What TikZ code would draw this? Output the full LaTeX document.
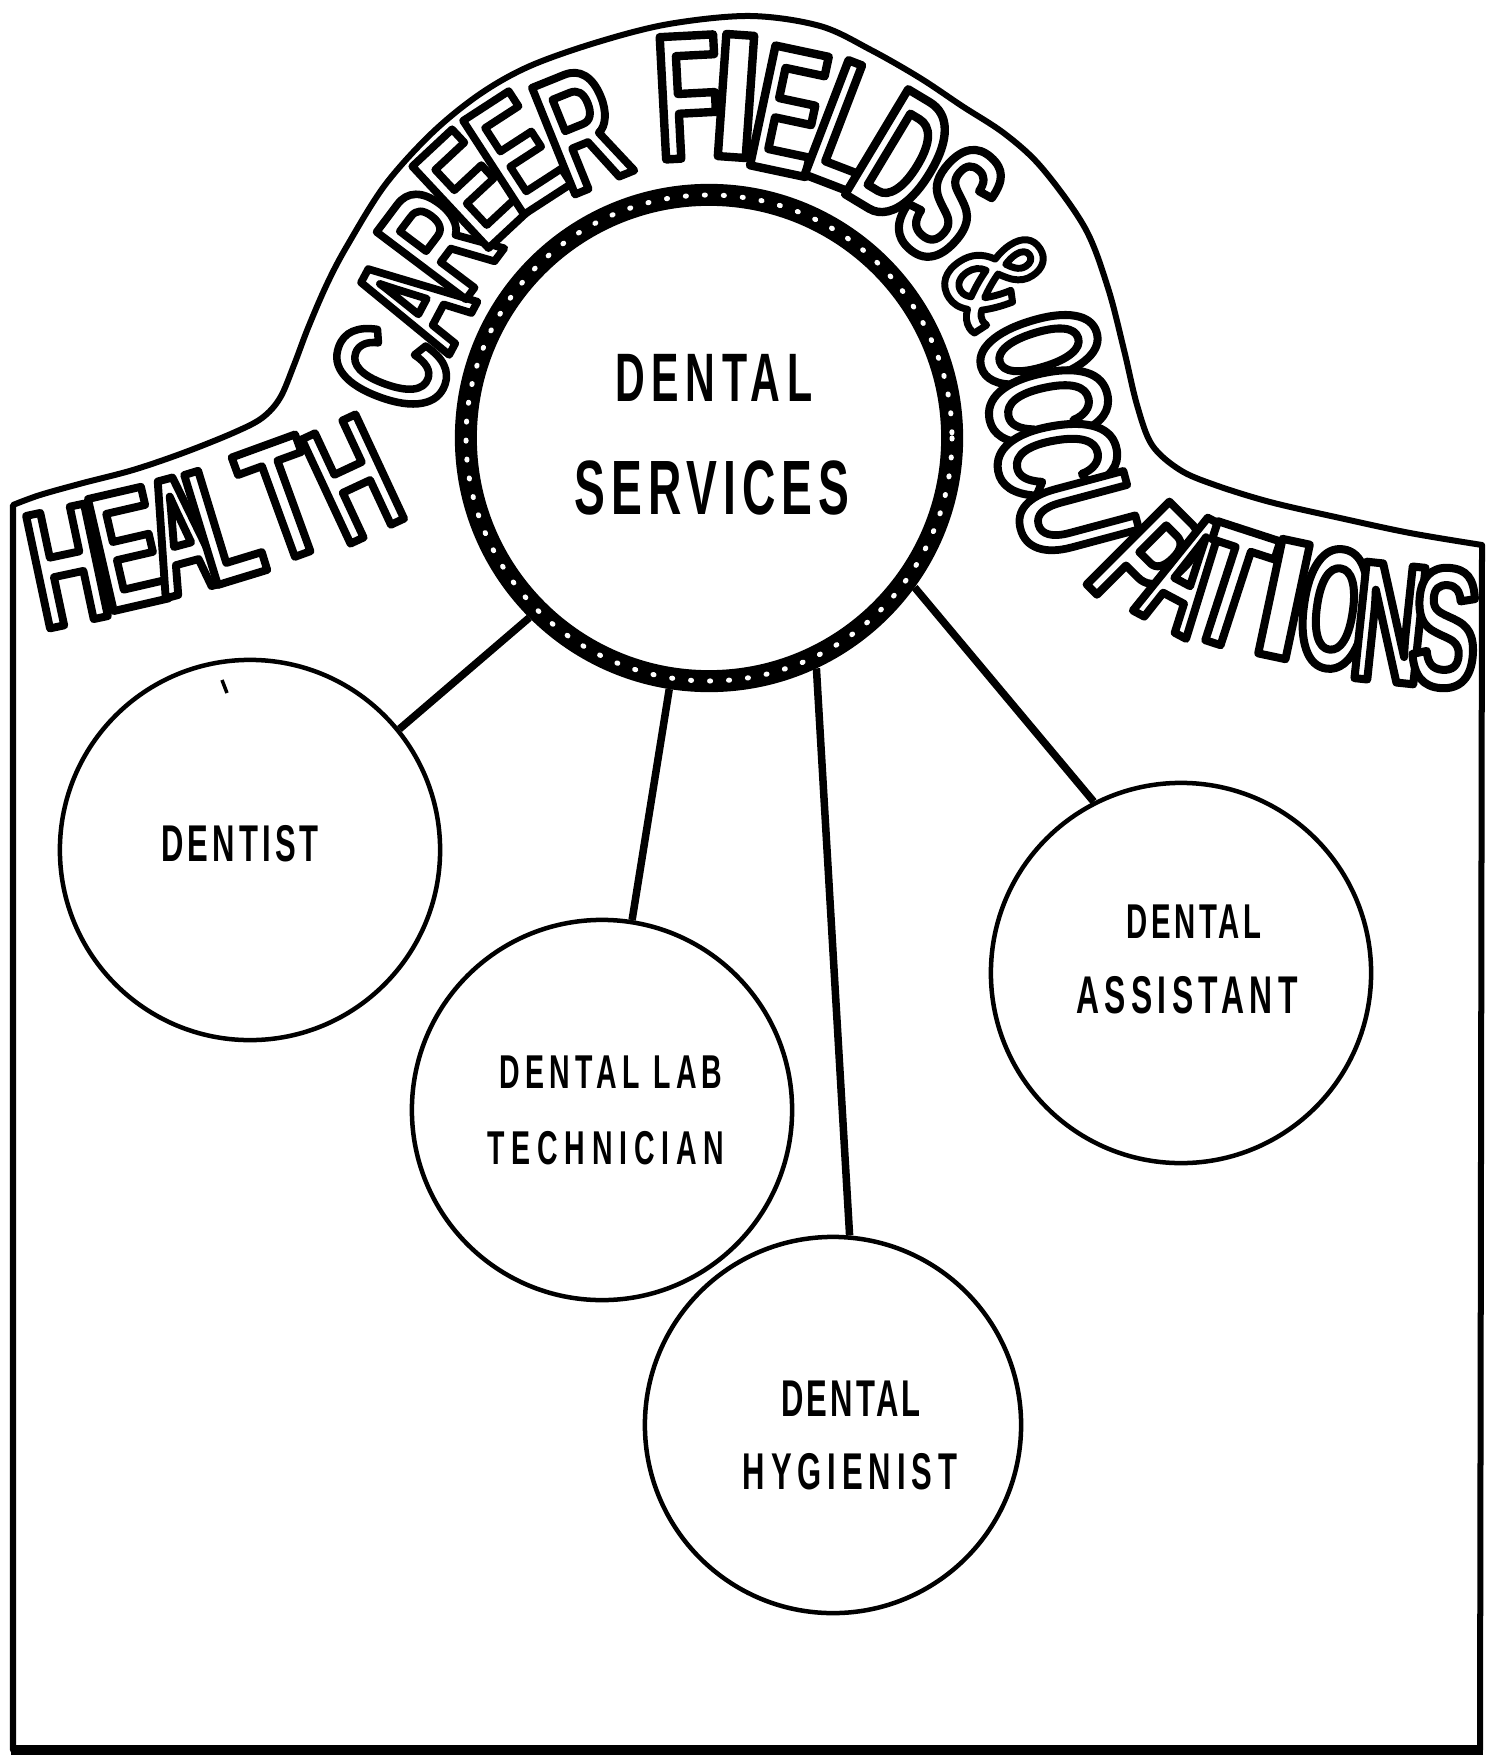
\documentclass[tikz,border=0pt]{standalone}
\usepackage{fontspec}
\setmainfont{Liberation Sans}
\newfontfamily\titlefont{Liberation Sans Bold}
\usetikzlibrary{calc}
\newcommand{\sq}[2]{\scalebox{#1}[1]{#2}}
\makeatletter
\newcommand{\strokeblack}{\pgfsys@invoke{0 0 0 RG 1 j 1 J}}
\makeatother
\def\letterlist{%
67/566/12/0.65/1.08/H,
127/549/13/0.65/1.08/E,
180/535/15/0.58/1.08/A,
224/523/17/0.65/1.08/L,
283/500/20/0.74/1.08/T,
353/479/25/0.65/1.08/H,
391/368/70/0.63/1.03/C,
414/302/62/0.58/1.05/A,
439/242/53/0.65/1.05/R,
470/189/43/0.65/1.05/E,
516/153/33/0.65/1.05/E,
581/130/22/0.65/1.08/R,
688/97/3/0.68/1.15/F,
736/96/-4/1.25/1.15/I,
789/111/-12/0.65/1.15/E,
849/126/-21/0.65/1.15/L,
902/157/-31/0.65/1.15/D,
950/203/-42/0.65/1.12/S,
997/277/-57/0.68/0.95/\&,
1039/350/-73/0.56/1.1/O,
1048/405/-78/0.65/1.1/C,
1057/458/-80/0.65/1.1/C,
1076/515/-75/0.65/1.06/U,
1147/562/-45/0.65/1.1/P,
1187/573/-28/0.58/1.1/A,
1231/587/-18/0.72/1.1/T,
1284/599/-12/1.25/1.1/I,
1335/609/-8/0.58/1.1/O,
1390/623/-6/0.65/1.1/N,
1445/628/-4/0.65/1.1/S}
\begin{document}
\begin{tikzpicture}[x=0.01cm,y=-0.01cm,
  bubble/.style={draw, circle, line width=0.045cm, minimum size=3.8cm, inner sep=0pt},
  hub/.style={draw, circle, line width=0.22cm, minimum size=4.86cm, inner sep=0pt},
  conn/.style={line width=0.075cm},
  lbl/.style={anchor=base, inner sep=0pt, font=\bfseries},
  tlet/.style={inner sep=0pt, text=white, font=\titlefont},
  sign/.style={line width=0.06cm, line join=round}]
\useasboundingbox (0,0) rectangle (1497,1755);
\fill[white] (0,0) rectangle (1497,1755);

% sign outline
\draw[sign] (13,1750) -- plot[smooth, tension=0.55] coordinates {(13,505) (40,495) (83,483) (133,470) (183,453) (233,433) (262,418) (280,398) (294,365) (308,328) (327,284) (347,246) (385,185) (432,133) (480,94) (530,66) (598,42) (669,24) (750,16) (820,26) (871,50) (920,78) (962,106) (1005,134) (1042,168) (1085,228) (1108,288) (1124,350) (1137,405) (1152,445) (1180,470) (1215,485) (1270,502) (1340,518) (1410,533) (1482,545)} -- (1480,1750) -- cycle;
\draw[line width=0.1cm] (11,1750) -- (1483,1750);

% outlined title letters (white fill, black stroke)
\foreach \x/\y/\rt/\sx/\sy/\ch [count=\i] in \letterlist {
  \pgfmathsetmacro\fs{44*\sy}
  \pgfmathsetmacro\st{\sx/\sy}
  \node[tlet, rotate=\rt] (t\i) at (\x,\y) {\fontsize{\fs}{\fs}\selectfont\edef\tmp{\noexpand\addfontfeatures{FakeStretch=\st,FakeBold=4.7}}\tmp\strokeblack\ch};
}

% central hub
\node[hub] (cs) at (709,438) {};
\draw[white, line width=0.05cm, dash pattern=on 0.01cm off 0.18cm, line cap=round] (cs.center) circle[radius=243];
\node[lbl] (cs-t1) at (714,401) {\fontsize{19.5}{20}\selectfont\addfontfeatures{LetterSpace=16}\sq{0.6}{DENTAL}};
\node[lbl] (cs-t2) at (712,514) {\fontsize{21.9}{22}\selectfont\addfontfeatures{LetterSpace=13}\sq{0.6}{SERVICES}};

% occupation circles
\node[bubble] (dentist) at (250,850) {};
\node[bubble] (lab) at (602,1110) {};
\node[bubble, minimum size=3.76cm] (hyg) at (833,1425) {};
\node[bubble] (asst) at (1181,973) {};

\node[lbl] (dentist-t) at (240,861) {\fontsize{14.7}{15}\selectfont\addfontfeatures{LetterSpace=13.5}\sq{0.6}{DENTIST}};
\node[lbl] (lab-t1) at (611,1088) {\fontsize{13.5}{14}\selectfont\addfontfeatures{LetterSpace=19}\sq{0.6}{DENTAL LAB}};
\node[lbl] (lab-t2) at (606,1164) {\fontsize{13.5}{14}\selectfont\addfontfeatures{LetterSpace=24}\sq{0.6}{TECHNICIAN}};
\node[lbl] (hyg-t1) at (851,1416) {\fontsize{14.7}{15}\selectfont\addfontfeatures{LetterSpace=10}\sq{0.6}{DENTAL}};
\node[lbl] (hyg-t2) at (850,1489) {\fontsize{14.7}{15}\selectfont\addfontfeatures{LetterSpace=19}\sq{0.6}{HYGIENIST}};
\node[lbl] (asst-t1) at (1194,938) {\fontsize{13.9}{14}\selectfont\addfontfeatures{LetterSpace=12}\sq{0.6}{DENTAL}};
\node[lbl] (asst-t2) at (1187,1013) {\fontsize{15.1}{15}\selectfont\addfontfeatures{LetterSpace=17}\sq{0.6}{ASSISTANT}};

\draw[line width=0.035cm] (222,680) -- (227,693);

% connectors
\draw[conn] (cs.-135.5) -- (dentist.39);
\draw[conn] (cs.-99) -- (lab.81);
\draw[conn] (cs.-65) -- (hyg.85);
\draw[conn] (cs.-36) -- (asst.117);
\end{tikzpicture}
\end{document}
